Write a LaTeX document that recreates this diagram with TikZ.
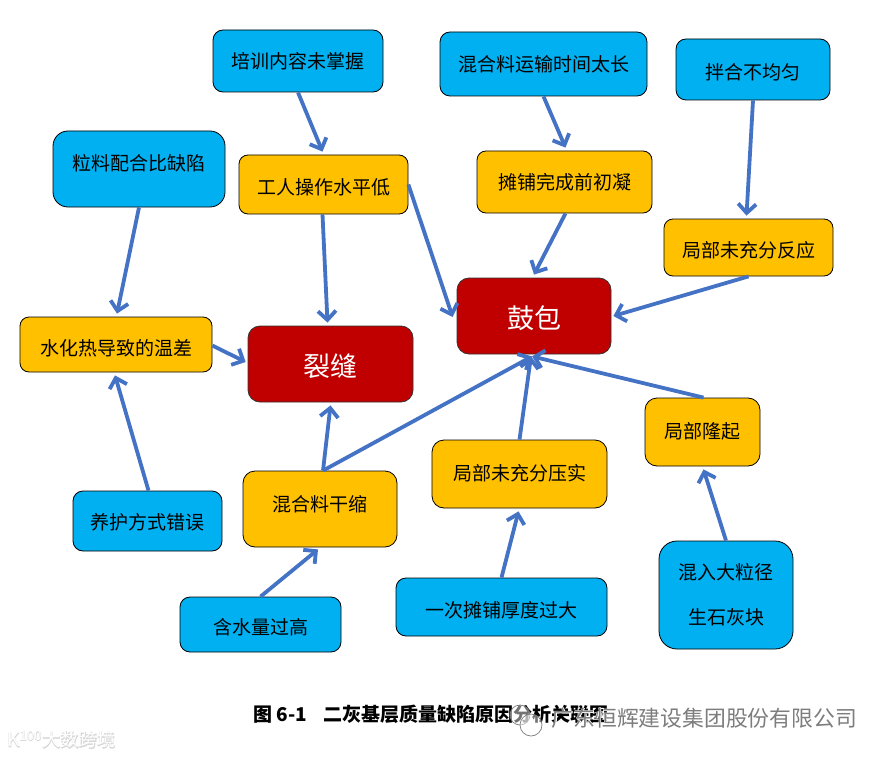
\documentclass[tikz,border=0pt]{standalone}
\usepackage{fontspec}
\setmainfont{Noto Sans CJK SC}
\newfontfamily\haloface[RawFeature={embolden=4}]{Noto Sans CJK SC}
\usetikzlibrary{arrows.meta,positioning,calc}
\definecolor{rootred}{RGB}{192,0,0}
\definecolor{amber}{RGB}{255,192,0}
\definecolor{skyblue}{RGB}{0,176,240}
\definecolor{flowblue}{RGB}{68,114,196}
\definecolor{markgray}{RGB}{125,125,125}
\tikzset{
  rootbox/.style={draw=black!80,line width=0.8pt,fill=rootred,text=white,rounded corners=12pt,
    inner sep=0pt,text height=28pt,text depth=3pt,font=\fontsize{27}{30}\selectfont},
  midbox/.style={draw=black,line width=0.8pt,fill=amber,rounded corners=9pt,inner sep=0pt,
    text depth=2pt,font=\fontsize{19}{23}\selectfont},
  leafbox/.style={draw=black,line width=0.8pt,fill=skyblue,rounded corners=10pt,inner sep=0pt,
    text depth=2pt,font=\fontsize{19}{23}\selectfont},
  flow/.style={draw=flowblue,line width=3.8pt,
    -{Straight Barb[length=9pt,width=18pt]}},
  bubble/.style={draw=markgray,fill=white,fill opacity=0.45,line width=0.7pt},
}
\begin{document}
\begin{tikzpicture}[x=1pt,y=-1pt]
\useasboundingbox (0,0) rectangle (886,757);
\node[rootbox,minimum width=165pt,minimum height=76pt] (crack) at (330.5,364) {裂缝};
\node[rootbox,minimum width=154pt,minimum height=76pt] (bulge) at (534,316) {鼓包};
\node[midbox,text height=22pt,minimum width=169pt,minimum height=59pt] (worker) at (323.5,184.5) {工人操作水平低};
\node[midbox,text height=16pt,minimum width=175pt,minimum height=62pt] (setting) at (564.5,182) {摊铺完成前初凝};
\node[midbox,text height=22pt,minimum width=169pt,minimum height=57pt] (react) at (748.5,247.5) {局部未充分反应};
\node[midbox,text height=24pt,minimum width=192pt,minimum height=55pt] (heat) at (116,344.5) {水化热导致的温差};
\node[midbox,text height=6pt,minimum width=154pt,minimum height=76pt,rounded corners=12pt] (shrink) at (320,509) {混合料干缩};
\node[midbox,text height=14pt,minimum width=175pt,minimum height=68pt,rounded corners=12pt] (compact) at (519.5,474) {局部未充分压实};
\node[midbox,text height=14pt,minimum width=115pt,minimum height=68pt,rounded corners=12pt] (hump) at (702.5,432) {局部隆起};
\node[leafbox,text height=18pt,minimum width=170pt,minimum height=62pt] (train) at (298,61) {培训内容未掌握};
\node[leafbox,text height=18pt,minimum width=207pt,minimum height=64pt] (haul) at (543.5,64) {混合料运输时间太长};
\node[leafbox,text height=22pt,minimum width=154pt,minimum height=61pt] (mixing) at (753,69.5) {拌合不均匀};
\node[leafbox,text height=4pt,minimum width=172pt,minimum height=76pt,rounded corners=15pt] (grading) at (139,169) {粒料配合比缺陷};
\node[leafbox,text height=18pt,minimum width=149pt,minimum height=60pt] (curing) at (147.5,521) {养护方式错误};
\node[leafbox,text height=22pt,minimum width=161pt,minimum height=55pt] (water) at (260.5,624.5) {含水量过高};
\node[leafbox,text height=22pt,minimum width=211pt,minimum height=58pt] (layer) at (501.5,607) {一次摊铺厚度过大};
\node[leafbox,minimum width=134pt,minimum height=108pt,rounded corners=18pt,align=center,text depth=] (lime) at (726,595) {混入大粒径\\[22pt]生石灰块};
% connectors
\draw[flow] (train.south) -- ([xshift=-1pt,yshift=3pt]worker.north);
\draw[flow] ([xshift=-1pt]worker.south) -- ([xshift=-3pt,yshift=3pt]crack.north);
\draw[flow] ([yshift=0pt]worker.east) -- ([yshift=-1pt,xshift=-4pt]bulge.west);
\draw[flow] (haul.south) -- ([xshift=1pt,yshift=3pt]setting.north);
\draw[flow] ([xshift=1pt]setting.south) -- ([yshift=3pt]bulge.north);
\draw[flow] (mixing.south) -- ([xshift=-2pt,yshift=3pt]react.north);
\draw[flow] (react.south) -- ([xshift=2pt]bulge.east);
\draw[flow] (grading.south) -- ([xshift=1pt,yshift=3pt]heat.north);
\draw[flow] ([yshift=-1pt]heat.east) -- ([xshift=-2pt,yshift=2pt]crack.west);
\draw[flow] ([xshift=1pt]curing.north) -- ([xshift=-1pt,yshift=-3pt]heat.south);
\draw[flow] ([xshift=3pt]shrink.north) -- ([yshift=-3pt]crack.south);
\draw[flow] ([xshift=3pt]shrink.north) -- ([xshift=-2pt,yshift=-2pt]bulge.south);
\draw[flow] (compact.north) -- ([xshift=-3pt,yshift=-2pt]bulge.south);
\draw[flow] ([xshift=1pt]hump.north) -- ([xshift=-2pt,yshift=-2pt]bulge.south);
\draw[flow] (water.north) -- ([xshift=-2pt,yshift=-2pt]shrink.south);
\draw[flow] (layer.north) -- ([xshift=-1pt,yshift=-3pt]compact.south);
\draw[flow] (lime.north) -- ([xshift=1pt,yshift=-3pt]hump.south);
% caption and watermarks
\node[font=\fontsize{19}{23}\selectfont\bfseries,anchor=west,inner sep=0pt] (caption) at (253,714) {图 6-1\hspace{17pt}二灰基层质量缺陷原因分析关联图};
\draw[bubble] (520,715) circle (10pt);
\draw[bubble] (531,725) circle (11pt);
\node[font=\fontsize{21.8}{24}\selectfont\haloface,text=white,anchor=east,inner sep=0pt] (halo) at (857,718) {广东恒辉建设集团股份有限公司};
\node[font=\fontsize{21.8}{24}\selectfont,text=markgray,anchor=east,inner sep=0pt] (brand) at (857,718) {广东恒辉建设集团股份有限公司};
\node[font=\fontsize{18.3}{22}\selectfont\haloface,text=black!16,anchor=west,inner sep=0pt] (sitehalo) at (42,740) {大数跨境};
\node[font=\fontsize{18.3}{22}\selectfont,text=white,anchor=west,inner sep=0pt] (site) at (42,740) {大数跨境};
\node[font=\fontsize{19}{22}\selectfont\haloface,text=black!16,anchor=west,inner sep=0pt] (logohalo) at (7,739) {K\textsuperscript{100}};
\node[font=\fontsize{19}{22}\selectfont,text=white,anchor=west,inner sep=0pt] (logo) at (7,739) {K\textsuperscript{100}};
\end{tikzpicture}
\end{document}
